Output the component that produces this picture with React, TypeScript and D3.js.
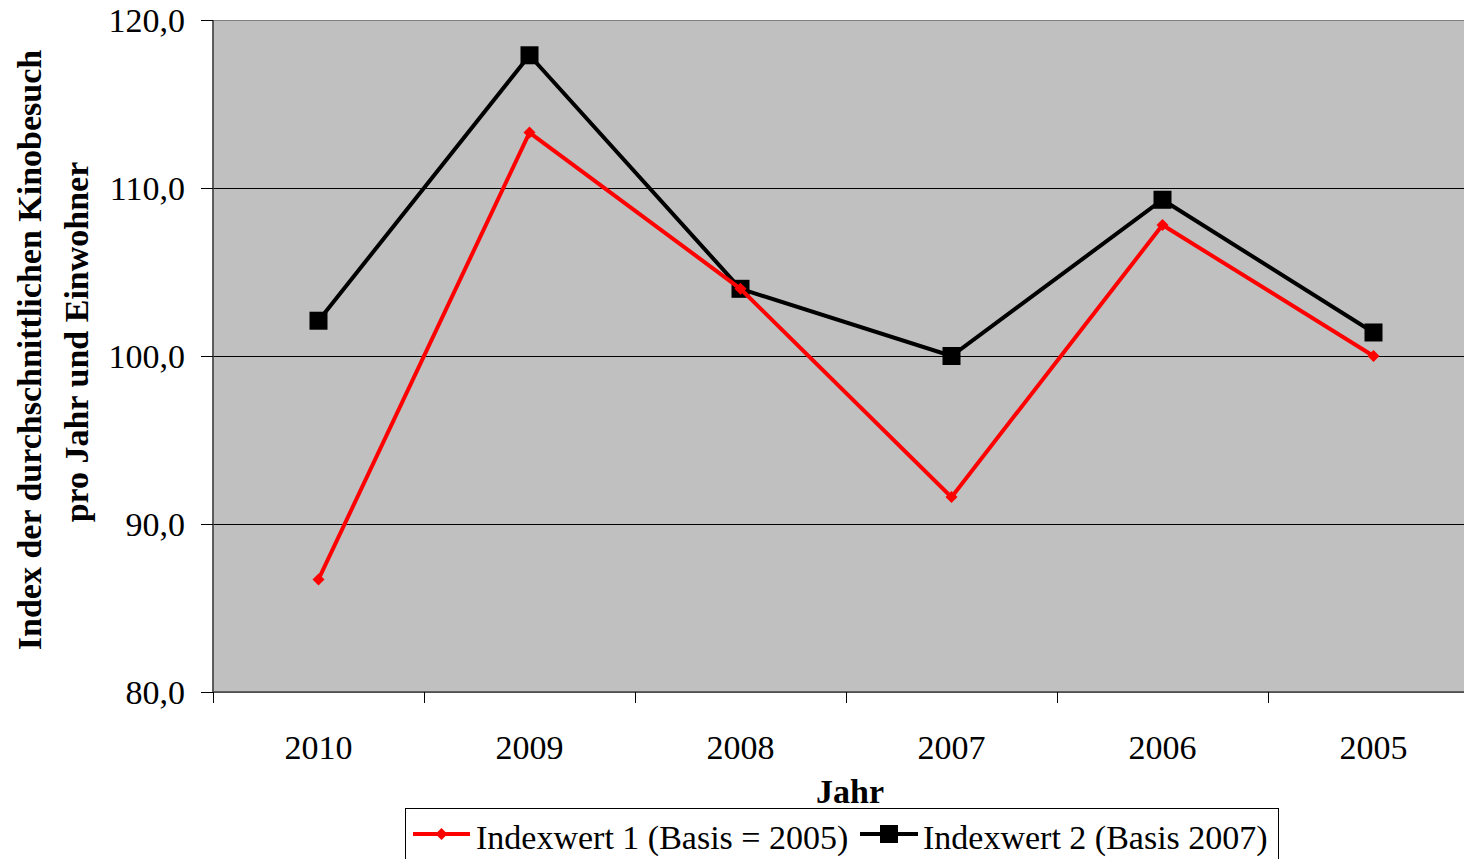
import React from "react";
import * as d3 from "d3";

const categories = ["2010", "2009", "2008", "2007", "2006", "2005"];
const index1 = [86.7, 113.3, 104.0, 91.6, 107.8, 100.0];
const index2 = [102.1, 117.9, 104.0, 100.0, 109.3, 101.4];
const yTicks = [80, 90, 100, 110, 120];
const seriesNames = ["Indexwert 1 (Basis = 2005)", "Indexwert 2 (Basis 2007)"];

const W = 1464;
const H = 859;
const left = 213;
const top = 20;
const plotW = 1266;
const plotH = 672;
const font = "Liberation Serif";

export default function App() {
  const x = d3.scaleBand<string>().domain(categories).range([left, left + plotW]);
  const y = d3.scaleLinear().domain([80, 120]).range([top + plotH, top]);
  const cx = (c: string) => (x(c) as number) + x.bandwidth() / 2;
  const line = d3
    .line<number>()
    .x((_, i) => cx(categories[i]))
    .y((d) => y(d));
  const fmt = (v: number) => v.toFixed(1).replace(".", ",");
  const bottom = top + plotH;
  const ts = { fontFamily: font } as React.CSSProperties;

  return (
    <svg
      width={W}
      height={H}
      style={{ position: "absolute", left: 0, top: 0, fontFamily: font }}
    >
      <rect x={left} y={top + 0.5} width={plotW} height={plotH} fill="#C0C0C0" stroke="#808080" strokeWidth={1} />
      {yTicks.slice(1, -1).map((t) => (
        <line key={t} x1={left} x2={left + plotW} y1={Math.round(y(t)) + 0.5} y2={Math.round(y(t)) + 0.5} stroke="#000" strokeWidth={1} />
      ))}
      <line x1={left} x2={left} y1={top} y2={bottom} stroke="#404040" strokeWidth={1.5} />
      <line x1={left} x2={left + plotW} y1={bottom} y2={bottom} stroke="#404040" strokeWidth={1.5} />
      {yTicks.map((t) => (
        <g key={t}>
          <line x1={left - 12} x2={left} y1={Math.round(y(t)) + 0.5} y2={Math.round(y(t)) + 0.5} stroke="#000" strokeWidth={1} />
          <text x={185} y={y(t)} dy="0.35em" textAnchor="end" fontSize={34} fill="#000" style={ts}>
            {fmt(t)}
          </text>
        </g>
      ))}
      {categories.map((c) => (
        <line key={"t" + c} x1={(x(c) as number) + 0.5} x2={(x(c) as number) + 0.5} y1={bottom} y2={bottom + 11} stroke="#000" strokeWidth={1} />
      ))}
      {categories.map((c) => (
        <text key={"l" + c} x={cx(c)} y={759} textAnchor="middle" fontSize={34} fill="#000" style={ts}>
          {c}
        </text>
      ))}
      <text x={850} y={803} textAnchor="middle" fontSize={34} fontWeight="bold" style={ts}>
        Jahr
      </text>
      <text transform="translate(41,350) rotate(-90)" textAnchor="middle" fontSize={34} fontWeight="bold" style={ts}>
        Index der durchschnittlichen Kinobesuch
      </text>
      <text transform="translate(88,342) rotate(-90)" textAnchor="middle" fontSize={34} fontWeight="bold" style={ts}>
        pro Jahr und Einwohner
      </text>

      <path d={line(index2) || ""} fill="none" stroke="#000" strokeWidth={4} />
      {index2.map((v, i) => (
        <rect key={"b" + i} x={cx(categories[i]) - 9} y={y(v) - 9} width={18} height={18} fill="#000" />
      ))}
      <path d={line(index1) || ""} fill="none" stroke="#FF0000" strokeWidth={4} />
      {index1.map((v, i) => (
        <path
          key={"r" + i}
          d={`M${cx(categories[i])},${y(v) - 6}l6,6l-6,6l-6,-6z`}
          fill="#FF0000"
        />
      ))}

      <rect x={405.5} y={808.5} width={873} height={60} fill="#fff" stroke="#000" strokeWidth={1} />
      <line x1={413} x2={470} y1={834} y2={834} stroke="#FF0000" strokeWidth={4} />
      <path d="M441.5,828l6,6l-6,6l-6,-6z" fill="#FF0000" />
      <text x={476} y={849} fontSize={34} style={ts}>{seriesNames[0]}</text>
      <line x1={860} x2={918} y1={834} y2={834} stroke="#000" strokeWidth={4} />
      <rect x={880} y={825} width={18} height={18} fill="#000" />
      <text x={923} y={849} fontSize={34} style={ts}>{seriesNames[1]}</text>
    </svg>
  );
}
